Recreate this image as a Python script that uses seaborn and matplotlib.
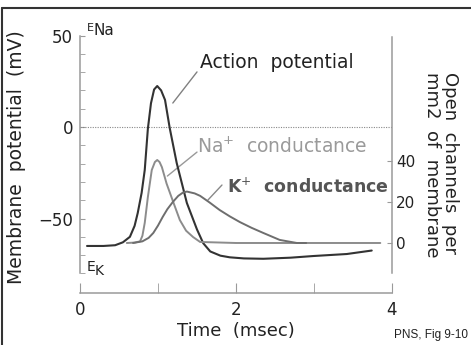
import numpy as np
import pandas as pd
import matplotlib
matplotlib.use("Agg")
import matplotlib.pyplot as plt
from matplotlib.lines import Line2D
import seaborn as sns

# action potential (mV) vs time (msec)
ap_t = [0.09, 0.30, 0.45, 0.55, 0.64, 0.70, 0.74, 0.79, 0.83, 0.87, 0.91, 0.95, 0.99,
        1.04, 1.09, 1.15, 1.24, 1.37, 1.50, 1.58, 1.67, 1.80, 1.92, 2.10, 2.35, 2.70,
        2.99, 3.42, 3.74]
ap_v = [-65, -65, -64.6, -63, -60, -54, -47, -36, -23.5, -1, 13, 20.5, 22.4,
        20, 14.8, -0.5, -19.7, -41.5, -56, -63.5, -68, -70.3, -71.2, -71.8, -72, -71.4,
        -70.5, -69.4, -67.5]

# Na+ conductance (open channels per mm2)
na_t = [0.60, 0.70, 0.77, 0.80, 0.83, 0.87, 0.92, 0.96, 0.99, 1.02, 1.05, 1.11, 1.20,
        1.28, 1.36, 1.45, 1.54, 2.0, 3.0, 3.85]
na_g = [0, 0.2, 0.8, 3.5, 9.8, 22.4, 35.6, 39.5, 40.5, 39.5, 37, 29, 19.5,
        11.2, 6, 2.9, 0.5, 0, 0, 0]

# K+ conductance
k_t = [0.68, 0.80, 0.88, 0.94, 1.00, 1.06, 1.12, 1.19, 1.26, 1.32, 1.37, 1.47, 1.54,
       1.66, 1.79, 1.92, 2.05, 2.20, 2.35, 2.56, 2.78, 2.90]
k_g = [0, 0.8, 2.5, 4.9, 8.5, 12.7, 16.5, 20, 23, 24.6, 25.1, 24.2, 23.0,
       19.8, 16.1, 13, 10.2, 7.4, 4.9, 1.5, 0, 0]

left_labels = [-50, 0, 50]
right_ticks = [0, 20, 40]
x_labels = [0, 2, 4]

sns.set_style("white")
plt.rcParams['font.family'] = ['DejaVu Sans']

spine_c = '#9a9a9a'
txt_c = '#222222'

fig = plt.figure(figsize=(4.71, 3.45), dpi=100)
ax = fig.add_axes([80 / 471, 1 - 293 / 345, 312 / 471, 265 / 345])
ax2 = ax.twinx()

df_ap = pd.DataFrame({'t': ap_t, 'v': ap_v})
df_na = pd.DataFrame({'t': na_t, 'g': na_g})
df_k = pd.DataFrame({'t': k_t, 'g': k_g})

ax.axhline(0, color='#888888', lw=0.8, ls=(0, (1, 1.2)), zorder=1)
sns.lineplot(data=df_ap, x='t', y='v', ax=ax, color='#333333', lw=1.5, sort=False, zorder=5)
sns.lineplot(data=df_na, x='t', y='g', ax=ax2, color='#8c8c8c', lw=1.4, sort=False)
sns.lineplot(data=df_k, x='t', y='g', ax=ax2, color='#6e6e6e', lw=1.4, sort=False)

ax.set_xlim(0, 4)
ax.set_ylim(-90.7, 54.1)
ax2.set_ylim(-24.4, 104.9)

for a in (ax, ax2):
    for s in a.spines.values():
        s.set_visible(False)
    a.set_xlabel('')
    a.set_ylabel('')

ax.spines['left'].set_visible(True)
ax.spines['left'].set_bounds(-80, 50)
ax.spines['left'].set_color(spine_c)
ax.spines['left'].set_linewidth(1.1)
ax.spines['bottom'].set_visible(True)
ax.spines['bottom'].set_color(spine_c)
ax.spines['bottom'].set_linewidth(1.1)
ax2.spines['right'].set_visible(True)
ax2.spines['right'].set_bounds(-14.6, 100.5)
ax2.spines['right'].set_color(spine_c)
ax2.spines['right'].set_linewidth(1.1)

ax.set_yticks(left_labels)
ax.set_yticklabels(['\u221250', '0', '50'])
ax.set_yticks(np.arange(-80, 51, 10), minor=True)
ax.tick_params(axis='y', which='both', direction='in', length=3.5, color=spine_c,
               labelsize=12, labelcolor=txt_c, pad=5, left=True)
ax.set_xticks(x_labels)
ax.set_xticks([1, 3], minor=True)
ax.tick_params(axis='x', which='both', direction='in', length=7, color=spine_c,
               labelsize=12, labelcolor=txt_c, pad=6, bottom=True)
ax2.set_yticks(right_ticks)
ax2.tick_params(axis='y', direction='in', length=3.5, color=spine_c,
                labelsize=11, labelcolor=txt_c, pad=3, right=True)
ax.grid(False)
ax2.grid(False)

ax.set_xlabel('Time  (msec)', fontsize=13, color=txt_c, labelpad=2)
fig.text(17 / 471, 1 - 157 / 345, 'Membrane  potential  (mV)', rotation=90,
         ha='center', va='center', fontsize=13.5, color=txt_c)
fig.text(441 / 471, 1 - 72 / 345, 'Open  channels  per\nmm2  of  membrane', rotation=-90,
         ha='center', va='top', multialignment='left', linespacing=1.0,
         fontsize=13, color=txt_c)
fig.text(468 / 471, 1 - 338 / 345, 'PNS, Fig 9-10', ha='right', va='baseline',
         fontsize=8.5, color=txt_c, family='Liberation Sans')

# labels on the curves
ax.text(1.54, 32.2, 'Action  potential', fontsize=13.5, color=txt_c, va='baseline')
ax.plot([1.19, 1.50], [13.1, 30.1], color='#808080', lw=1)
ax.text(1.50, -14.2, 'Na$^{+}$  conductance', fontsize=13.5, color='#9a9a9a', va='baseline')
ax.plot([1.12, 1.50], [-26.8, -13.7], color='#999999', lw=1)
ax.text(1.88, -36, 'K$^{+}$  conductance', fontsize=12.5, color='#555555',
        fontweight='bold', va='baseline')
ax.plot([1.64, 1.82], [-39.9, -31.7], color='#888888', lw=1)

# reversal potentials
ax.text(0.09, 52.5, 'E', fontsize=8, color=txt_c, va='baseline', clip_on=False)
ax.text(0.175, 50.3, 'Na', fontsize=11, color=txt_c, va='baseline', clip_on=False)
ax.text(0.09, -78.7, 'E', fontsize=10, color=txt_c, va='baseline')
ax.text(0.19, -80.9, 'K', fontsize=10, color=txt_c, va='baseline')

# frame
fig.add_artist(Line2D([2 / 471, 1], [1 - 8 / 345, 1 - 8 / 345], color='#333333', lw=1.5))
fig.add_artist(Line2D([2 / 471, 2 / 471], [0, 1 - 8 / 345], color='#333333', lw=1.5))

fig.savefig('out.png', dpi=100)
